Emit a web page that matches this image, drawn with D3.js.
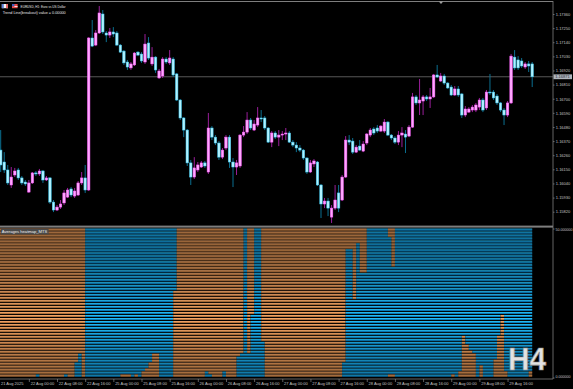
<!DOCTYPE html>
<html lang="en">
<head>
<meta charset="UTF-8">
<title>EURUSD H1 - Averages heatmap</title>
<style>
  html, body { margin: 0; padding: 0; background: #000; }
  svg { display: block; }
  text { font-family: 'Liberation Sans', Arial, sans-serif; }
  .axis text { fill: #c4c4c4; font-size: 4px; }
  .axis line { stroke: #9a9a9a; stroke-width: 0.6; }
  .axis path { display: none; }
  .sub-axis text { font-size: 3.6px; }
</style>
</head>
<body>
<svg id="chart" width="573" height="389"></svg>
<script src="https://d3js.org/d3.v7.min.js"></script>
<script>
// EURUSD H1 bars, 21 Aug 16:00 .. 29 Aug 23:00
const open = [
  1.16300, 1.16207, 1.16145, 1.16028, 1.16106, 1.16145, 1.16083, 1.16051, 1.15973, 1.16044,
  1.16122, 1.16114, 1.16137, 1.16067, 1.16083, 1.15895, 1.15833, 1.15856, 1.15888, 1.15934,
  1.15997, 1.15942, 1.15950, 1.16044, 1.16083, 1.15989, 1.17173, 1.17118, 1.17212, 1.17360,
  1.17212, 1.17196, 1.17220, 1.17212, 1.17118, 1.17071, 1.16986, 1.16940, 1.16963, 1.17063,
  1.17048, 1.16986, 1.17134, 1.16971, 1.17024, 1.16862, 1.16877, 1.17009, 1.16979, 1.17009,
  1.16893, 1.16690, 1.16550, 1.16456, 1.16200, 1.16090, 1.16145, 1.16168, 1.16200, 1.16129,
  1.16472, 1.16401, 1.16355, 1.16245, 1.16316, 1.16401, 1.16207, 1.16168, 1.16176, 1.16417,
  1.16440, 1.16534, 1.16456, 1.16495, 1.16550, 1.16550, 1.16472, 1.16362, 1.16433, 1.16401,
  1.16417, 1.16425, 1.16433, 1.16362, 1.16339, 1.16316, 1.16300, 1.16238, 1.16129, 1.16192,
  1.16207, 1.16028, 1.15880, 1.15903, 1.15778, 1.15848, 1.15966, 1.15911, 1.16090, 1.16378,
  1.16370, 1.16284, 1.16331, 1.16292, 1.16355, 1.16417, 1.16464, 1.16472, 1.16448, 1.16448,
  1.16518, 1.16417, 1.16394, 1.16362, 1.16417, 1.16425, 1.16409, 1.16479, 1.16714, 1.16667,
  1.16682, 1.16714, 1.16698, 1.16714, 1.16885, 1.16838, 1.16877, 1.16822, 1.16791, 1.16729,
  1.16776, 1.16737, 1.16573, 1.16596, 1.16612, 1.16612, 1.16635, 1.16690, 1.16628, 1.16752,
  1.16752, 1.16721, 1.16667, 1.16612, 1.16573, 1.16667, 1.17024, 1.17002, 1.16994, 1.16947,
  1.16971, 1.16971
];
const high = [
  1.16456, 1.16284, 1.16184, 1.16168, 1.16161, 1.16161, 1.16098, 1.16067, 1.16067, 1.16129,
  1.16137, 1.16153, 1.16145, 1.16098, 1.16090, 1.15911, 1.15872, 1.15911, 1.15989, 1.16005,
  1.16012, 1.16005, 1.16059, 1.16129, 1.16184, 1.17180, 1.17313, 1.17235, 1.17422, 1.17391,
  1.17227, 1.17251, 1.17258, 1.17227, 1.17126, 1.17079, 1.17002, 1.16986, 1.17063, 1.17071,
  1.17063, 1.17204, 1.17180, 1.17102, 1.17032, 1.16932, 1.17024, 1.17024, 1.17079, 1.17024,
  1.16901, 1.16698, 1.16557, 1.16464, 1.16223, 1.16245, 1.16207, 1.16215, 1.16215, 1.16589,
  1.16487, 1.16417, 1.16370, 1.16316, 1.16417, 1.16417, 1.16238, 1.16223, 1.16425, 1.16487,
  1.16596, 1.16550, 1.16534, 1.16635, 1.16612, 1.16565, 1.16479, 1.16448, 1.16448, 1.16456,
  1.16448, 1.16472, 1.16448, 1.16378, 1.16362, 1.16339, 1.16308, 1.16245, 1.16223, 1.16230,
  1.16215, 1.16036, 1.15927, 1.15927, 1.15872, 1.16028, 1.16028, 1.16106, 1.16409, 1.16417,
  1.16394, 1.16339, 1.16378, 1.16370, 1.16433, 1.16472, 1.16479, 1.16495, 1.16495, 1.16542,
  1.16526, 1.16425, 1.16409, 1.16448, 1.16479, 1.16456, 1.16495, 1.16745, 1.16729, 1.16854,
  1.16729, 1.16729, 1.16784, 1.16893, 1.16963, 1.16901, 1.16893, 1.16830, 1.16807, 1.16799,
  1.16799, 1.16745, 1.16643, 1.16635, 1.16651, 1.16667, 1.16706, 1.16706, 1.16768, 1.16893,
  1.16768, 1.16737, 1.16674, 1.16628, 1.16682, 1.17048, 1.17079, 1.17032, 1.17017, 1.16986,
  1.16994, 1.16986
];
const low = [
  1.16129, 1.16122, 1.16028, 1.16005, 1.16090, 1.16067, 1.16028, 1.16020, 1.15966, 1.16036,
  1.16098, 1.16098, 1.16044, 1.16059, 1.15880, 1.15817, 1.15825, 1.15841, 1.15872, 1.15927,
  1.15934, 1.15927, 1.15942, 1.16028, 1.15966, 1.15981, 1.17102, 1.17110, 1.17204, 1.17204,
  1.17141, 1.17173, 1.17180, 1.17110, 1.17056, 1.16963, 1.16924, 1.16924, 1.16955, 1.17032,
  1.16979, 1.16971, 1.17002, 1.16955, 1.16901, 1.16854, 1.16862, 1.16971, 1.16963, 1.16869,
  1.16682, 1.16534, 1.16401, 1.16176, 1.16028, 1.16075, 1.16129, 1.16161, 1.16161, 1.16114,
  1.16378, 1.16339, 1.16223, 1.16230, 1.16300, 1.16161, 1.16012, 1.16106, 1.16161, 1.16401,
  1.16425, 1.16456, 1.16448, 1.16479, 1.16518, 1.16456, 1.16355, 1.16323, 1.16386, 1.16331,
  1.16378, 1.16378, 1.16355, 1.16323, 1.16284, 1.16284, 1.16223, 1.16114, 1.16122, 1.16168,
  1.16020, 1.15771, 1.15848, 1.15786, 1.15732, 1.15833, 1.15817, 1.15903, 1.16083, 1.16339,
  1.16269, 1.16277, 1.16292, 1.16284, 1.16339, 1.16401, 1.16417, 1.16433, 1.16440, 1.16433,
  1.16409, 1.16378, 1.16347, 1.16339, 1.16323, 1.16277, 1.16401, 1.16472, 1.16651, 1.16573,
  1.16573, 1.16682, 1.16628, 1.16706, 1.16862, 1.16830, 1.16807, 1.16776, 1.16721, 1.16721,
  1.16714, 1.16550, 1.16557, 1.16589, 1.16596, 1.16596, 1.16612, 1.16596, 1.16612, 1.16729,
  1.16690, 1.16651, 1.16596, 1.16495, 1.16557, 1.16659, 1.16924, 1.16924, 1.16940, 1.16932,
  1.16908, 1.16791
];
const close = [
  1.16184, 1.16145, 1.16044, 1.16090, 1.16137, 1.16083, 1.16044, 1.16036, 1.16044, 1.16122,
  1.16114, 1.16137, 1.16067, 1.16083, 1.15895, 1.15833, 1.15856, 1.15880, 1.15966, 1.15989,
  1.15950, 1.15981, 1.16044, 1.16083, 1.15989, 1.17173, 1.17110, 1.17212, 1.17368, 1.17220,
  1.17196, 1.17220, 1.17204, 1.17118, 1.17063, 1.16979, 1.16947, 1.16971, 1.17056, 1.17040,
  1.16994, 1.17126, 1.17017, 1.17024, 1.16924, 1.16916, 1.17009, 1.16986, 1.17017, 1.16885,
  1.16690, 1.16550, 1.16456, 1.16200, 1.16090, 1.16161, 1.16184, 1.16200, 1.16176, 1.16472,
  1.16401, 1.16355, 1.16245, 1.16300, 1.16401, 1.16207, 1.16168, 1.16200, 1.16417, 1.16440,
  1.16534, 1.16472, 1.16503, 1.16550, 1.16542, 1.16472, 1.16362, 1.16433, 1.16401, 1.16417,
  1.16425, 1.16433, 1.16362, 1.16339, 1.16316, 1.16300, 1.16238, 1.16129, 1.16200, 1.16215,
  1.16028, 1.15880, 1.15903, 1.15848, 1.15848, 1.15911, 1.15848, 1.16090, 1.16378, 1.16362,
  1.16284, 1.16323, 1.16300, 1.16347, 1.16425, 1.16456, 1.16433, 1.16448, 1.16487, 1.16518,
  1.16417, 1.16394, 1.16362, 1.16417, 1.16433, 1.16401, 1.16479, 1.16714, 1.16667, 1.16690,
  1.16714, 1.16698, 1.16714, 1.16885, 1.16869, 1.16877, 1.16822, 1.16784, 1.16729, 1.16776,
  1.16729, 1.16573, 1.16620, 1.16620, 1.16635, 1.16651, 1.16690, 1.16612, 1.16752, 1.16745,
  1.16706, 1.16667, 1.16612, 1.16573, 1.16667, 1.17032, 1.16940, 1.16940, 1.16955, 1.16971,
  1.16955, 1.16871
];

const priceTicks = [1.17360, 1.17250, 1.17140, 1.17030, 1.16920, 1.16810, 1.16700, 1.16590,
  1.16480, 1.16370, 1.16260, 1.16150, 1.16040, 1.15930, 1.15820];

const timeLabels = ["21 Aug 2025", "22 Aug 00:00", "22 Aug 08:00", "22 Aug 16:00", "25 Aug 00:00",
  "25 Aug 08:00", "25 Aug 16:00", "26 Aug 00:00", "26 Aug 08:00", "26 Aug 16:00", "27 Aug 00:00",
  "27 Aug 08:00", "27 Aug 16:00", "28 Aug 00:00", "28 Aug 08:00", "28 Aug 16:00", "29 Aug 00:00",
  "29 Aug 08:00", "29 Aug 16:00"];
const timeLabelBars = [0, 8, 16, 24, 32, 40, 48, 56, 64, 72, 80, 88, 96, 104, 112, 120, 128, 136, 144];

// heatmap: 50 average levels per bar ('b' = above / blue, 'o' = below / orange)
const LEVELS = 50;
const heatTrendRuns = [["o", 25], ["b", 26], ["o", 47], ["b", 54]];
// levels at the bottom that show the opposite colour
const heatLow = [
  0, 0, 0, 0, 0, 0, 0, 0, 0, 0,
  0, 1, 0, 0, 0, 0, 0, 0, 0, 1,
  0, 0, 5, 8, 0, 0, 0, 0, 0, 0,
  0, 0, 0, 0, 0, 1, 1, 1, 0, 1,
  0, 2, 3, 5, 8, 8, 0, 0, 0, 0,
  29, 0, 0, 0, 0, 0, 0, 0, 0, 2,
  1, 0, 0, 0, 2, 0, 0, 0, 7, 8,
  50, 8, 21, 50, 50, 12, 0, 0, 0, 0,
  0, 0, 0, 0, 0, 0, 0, 0, 0, 0,
  0, 0, 0, 0, 0, 0, 0, 0, 0, 0,
  0, 0, 0, 0, 0, 0, 0, 0, 0, 0,
  0, 1, 1, 0, 0, 0, 0, 0, 0, 0,
  0, 0, 0, 0, 0, 0, 0, 0, 0, 1,
  0, 2, 14, 11, 9, 8, 0, 4, 0, 0,
  0, 6, 14, 21, 2, 0, 0, 0, 0, 0,
  0, 2
];
// levels at the top that show the opposite colour
const heatTop = [
  0, 0, 0, 0, 0, 0, 0, 0, 0, 0,
  0, 0, 0, 0, 0, 0, 0, 0, 0, 0,
  0, 0, 0, 0, 0, 0, 0, 0, 0, 0,
  0, 0, 0, 0, 0, 0, 0, 0, 0, 0,
  0, 0, 0, 0, 0, 0, 0, 0, 0, 0,
  0, 0, 0, 0, 0, 0, 0, 0, 0, 0,
  0, 0, 0, 0, 0, 0, 0, 0, 0, 0,
  0, 0, 0, 0, 0, 0, 0, 0, 0, 0,
  0, 0, 0, 0, 0, 0, 0, 0, 0, 0,
  0, 0, 0, 0, 0, 0, 0, 0, 45, 7,
  7, 24, 5, 15, 15, 0, 0, 0, 0, 0,
  0, 3, 13, 0, 0, 0, 0, 0, 0, 0,
  0, 0, 0, 0, 0, 0, 0, 0, 0, 0,
  0, 0, 0, 0, 0, 0, 0, 0, 0, 0,
  0, 0, 0, 0, 0, 0, 0, 0, 0, 0,
  0, 0
];

const plotRight = 553;
const mainTop = 2, mainBottom = 225.5;
const subTop = 228.5, subBottom = 377.5;

const colors = {
  bullBody: "#ffa8ff", bullEdge: "#ff5cff", bullWick: "#9a1e9a",
  bearBody: "#b0f2ff", bearEdge: "#3cc8f0", bearWick: "#0b6f90",
  orangeHi: "#f2a466", orangeLo: "#b8763e",
  blueHi: "#26bcf2", blueLo: "#0a7fbf",
  frame: "#7e7e7e", text: "#c4c4c4"
};

const svg = d3.select("#chart");
svg.append("rect").attr("width", 573).attr("height", 389).attr("fill", "#000");

const x = d3.scaleLinear().domain([0, open.length - 1]).range([0.7, 532.2]);
const y = d3.scaleLinear().domain([1.15820, 1.17360]).range([211.7, 14]);
const hy = d3.scaleLinear().domain([0, LEVELS]).range([subBottom, subTop]);

const defs = svg.append("defs");
defs.append("clipPath").attr("id", "mainClip")
  .append("rect").attr("x", 0).attr("y", mainTop).attr("width", plotRight).attr("height", mainBottom - mainTop);

// ---- main window ----
const main = svg.append("g").attr("clip-path", "url(#mainClip)");
const lastClose = close[close.length - 1];

main.append("line")
  .attr("x1", 0).attr("x2", plotRight)
  .attr("y1", y(lastClose)).attr("y2", y(lastClose))
  .attr("stroke", "#6e6e6e").attr("stroke-width", 0.8);

const bars = d3.range(open.length).map(i => ({
  i, o: open[i], h: high[i], l: low[i], c: close[i], up: close[i] >= open[i]
}));

main.selectAll(".wick").data(bars).enter().append("line")
  .attr("class", "wick")
  .attr("x1", d => x(d.i)).attr("x2", d => x(d.i))
  .attr("y1", d => y(d.h)).attr("y2", d => y(d.l))
  .attr("stroke", d => d.up ? colors.bullWick : colors.bearWick)
  .attr("stroke-width", 1);

main.selectAll(".body").data(bars).enter().append("rect")
  .attr("class", "body")
  .attr("x", d => x(d.i) - 1.25)
  .attr("width", 2.5)
  .attr("y", d => y(Math.max(d.o, d.c)))
  .attr("height", d => Math.max(0.8, Math.abs(y(d.o) - y(d.c))))
  .attr("fill", d => d.up ? colors.bullBody : colors.bearBody)
  .attr("stroke", d => d.up ? colors.bullEdge : colors.bearEdge)
  .attr("stroke-width", 0.5);

// ---- heatmap sub window ----
const heatTrend = [];
heatTrendRuns.forEach(([c, n]) => { for (let k = 0; k < n; k++) heatTrend.push(c); });

function cellColor(i, k) {
  const t = heatTrend[i];
  const opp = t === "b" ? "o" : "b";
  if (k < heatLow[i]) return opp;
  if (k >= LEVELS - heatTop[i]) return opp;
  return t;
}

const segStart = i => i === 0 ? 0 : x(i - 1);
const runs = [];
for (let k = 0; k < LEVELS; k++) {
  let start = 0, col = cellColor(0, k);
  for (let i = 1; i <= open.length; i++) {
    const c = i < open.length ? cellColor(i, k) : null;
    if (c !== col) {
      runs.push({ k, col, x0: segStart(start), x1: x(i - 1) });
      start = i; col = c;
    }
  }
}

const heat = svg.append("g");
heat.selectAll(".hi").data(runs).enter().append("rect")
  .attr("x", d => d.x0).attr("width", d => d.x1 - d.x0)
  .attr("y", d => hy(d.k + 1) + 0.1).attr("height", 1)
  .attr("fill", d => d.col === "b" ? colors.blueHi : colors.orangeHi);
heat.selectAll(".lo").data(runs).enter().append("rect")
  .attr("x", d => d.x0).attr("width", d => d.x1 - d.x0)
  .attr("y", d => hy(d.k + 1) + 1.1).attr("height", 1)
  .attr("fill", d => d.col === "b" ? colors.blueLo : colors.orangeLo);

// ---- frame ----
svg.append("line").attr("x1", 0).attr("x2", plotRight).attr("y1", 1.5).attr("y2", 1.5)
  .attr("stroke", colors.frame).attr("stroke-width", 1);
svg.append("rect").attr("x", 0).attr("y", 225.6).attr("width", plotRight).attr("height", 2)
  .attr("fill", colors.frame);
svg.append("line").attr("x1", 0).attr("x2", plotRight).attr("y1", 379).attr("y2", 379)
  .attr("stroke", colors.frame).attr("stroke-width", 0.8);
svg.append("line").attr("x1", plotRight).attr("x2", plotRight).attr("y1", 1).attr("y2", 379)
  .attr("stroke", colors.frame).attr("stroke-width", 0.8);
svg.append("path").attr("d", "M438.8,1.6 L443.2,1.6 L441,3.9 Z").attr("fill", "#a0a0a0");

// ---- axes ----
svg.append("g").attr("class", "axis")
  .attr("transform", `translate(${plotRight},0)`)
  .call(d3.axisRight(y).tickValues(priceTicks).tickFormat(d3.format(".5f")).tickSize(1.6).tickPadding(1.2));

// current price tag
svg.append("rect").attr("x", plotRight + 0.5).attr("y", y(lastClose) - 2.4)
  .attr("width", 18.5).attr("height", 4.8).attr("fill", "#aeb4bc");
svg.append("text").attr("x", plotRight + 2.2).attr("y", y(lastClose) + 1.4)
  .attr("font-size", 4).attr("fill", "#26303a").text(d3.format(".5f")(lastClose));

const subAxis = svg.append("g").attr("class", "axis sub-axis")
  .attr("transform", `translate(${plotRight},0)`)
  .call(d3.axisRight(hy).tickValues([LEVELS, 0]).tickFormat(d => d.toFixed(6)).tickSize(1.6).tickPadding(1));
subAxis.selectAll(".tick").filter(d => d === LEVELS).select("text").attr("dy", "0.6em");
subAxis.selectAll(".tick").filter(d => d === 0).select("text").attr("dy", "0em");

const timeAxis = svg.append("g").attr("class", "axis")
  .attr("transform", "translate(0,379)")
  .call(d3.axisBottom(x).tickValues(timeLabelBars).tickFormat((d, i) => timeLabels[i]).tickSize(3));
timeAxis.selectAll("text").attr("text-anchor", "start").attr("x", 1.3).attr("y", 3.2).attr("dy", "0.71em");
timeAxis.selectAll(".tick").filter(d => d === 0).select("line").remove();
timeAxis.selectAll(".tick").filter(d => d === 0).select("text").attr("x", -0.3);

// ---- labels ----
const icon1 = svg.append("g").attr("transform", "translate(1.8,4)");
icon1.append("rect").attr("width", 6.2).attr("height", 4.2).attr("fill", "#f4f4f4");
icon1.append("rect").attr("width", 2).attr("height", 4.2).attr("fill", "#5b7fd6");
icon1.append("rect").attr("x", 4.2).attr("width", 2).attr("height", 4.2).attr("fill", "#e66a6a");
const icon2 = svg.append("g").attr("transform", "translate(12,4)");
icon2.append("rect").attr("width", 5.6).attr("height", 4.2).attr("fill", "#e84848");
icon2.append("rect").attr("width", 2.4).attr("height", 2.2).attr("fill", "#3b5fc0");
icon2.append("rect").attr("x", 2.4).attr("y", 2.2).attr("width", 3.2).attr("height", 0.8).attr("fill", "#fff");

svg.append("text").attr("x", 20.6).attr("y", 7.9).attr("font-size", 4.2).attr("fill", "#e6e6e6")
  .attr("textLength", 45).attr("lengthAdjust", "spacingAndGlyphs")
  .text("EURUSD, H1:  Euro vs US Dollar");
svg.append("text").attr("x", 2.7).attr("y", 13.8).attr("font-size", 4.2).attr("fill", "#e6e6e6")
  .attr("textLength", 63).attr("lengthAdjust", "spacingAndGlyphs")
  .text("Trend Line(breakout)  value = 0.00000");

svg.append("rect").attr("x", 1).attr("y", 228.7).attr("width", 47.6).attr("height", 5.6).attr("fill", "#4a4a4a");
svg.append("text").attr("x", 1.8).attr("y", 233.3).attr("font-size", 4.3).attr("fill", "#f0f0f0")
  .attr("textLength", 45.5).attr("lengthAdjust", "spacingAndGlyphs")
  .text("Averages heatmap_MTS");

svg.append("text").attr("x", 508).attr("y", 370)
  .attr("font-size", 31).attr("font-weight", "bold")
  .attr("fill", "#e2e2e2").attr("stroke", "#8a8a8a").attr("stroke-width", 0.7)
  .attr("textLength", 38).attr("lengthAdjust", "spacingAndGlyphs")
  .text("H4");
</script>
</body>
</html>
